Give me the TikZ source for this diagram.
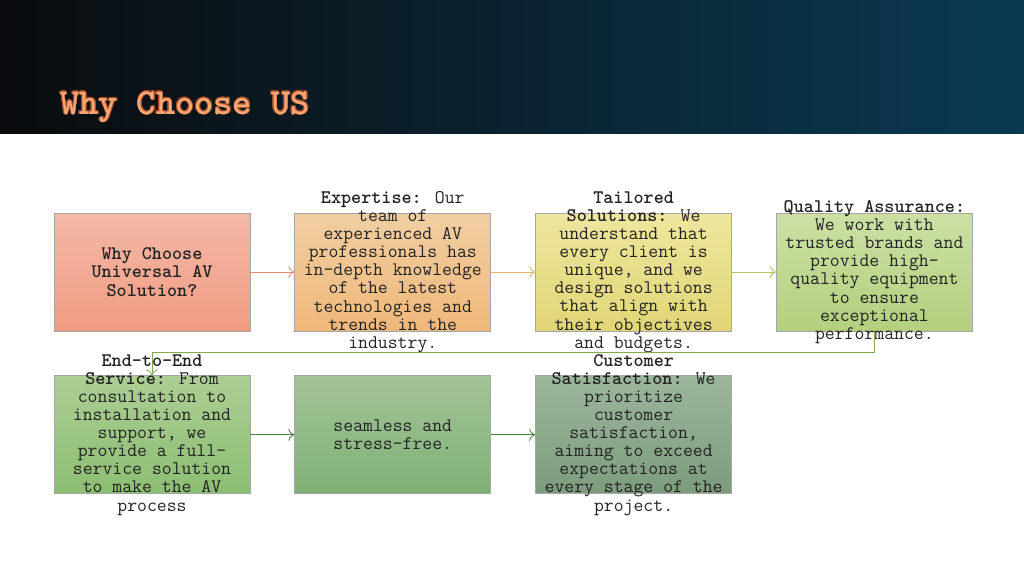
\documentclass[tikz,border=0pt]{standalone}
\usepackage{fontspec}
\usepackage{contour}
\usetikzlibrary{positioning,arrows.meta}
\definecolor{hdrdark}{RGB}{10,12,14}
\definecolor{hdrmid}{RGB}{9,36,50}
\definecolor{hdrteal}{RGB}{10,58,82}
\definecolor{titleorange}{RGB}{248,166,116}
\definecolor{titleedge}{RGB}{160,76,38}
\definecolor{bodytext}{RGB}{35,35,35}
\definecolor{whytop}{RGB}{244,184,166}
\definecolor{whybot}{RGB}{241,156,130}
\definecolor{exptop}{RGB}{240,206,162}
\definecolor{expbot}{RGB}{240,184,122}
\definecolor{tailtop}{RGB}{238,230,158}
\definecolor{tailbot}{RGB}{224,214,118}
\definecolor{qualtop}{RGB}{204,224,164}
\definecolor{qualbot}{RGB}{178,208,126}
\definecolor{endtop}{RGB}{172,206,148}
\definecolor{endbot}{RGB}{140,190,114}
\definecolor{seamtop}{RGB}{162,196,152}
\definecolor{seambot}{RGB}{128,176,118}
\definecolor{custtop}{RGB}{156,182,156}
\definecolor{custbot}{RGB}{124,156,124}
\definecolor{arrowsalmon}{RGB}{232,140,110}
\definecolor{arrowtan}{RGB}{232,178,100}
\definecolor{arrowolive}{RGB}{186,196,100}
\definecolor{arrowgreen}{RGB}{130,170,80}
\definecolor{arrowdark}{RGB}{70,130,55}
\contourlength{0.5pt}

\begin{document}
\begin{tikzpicture}[x=0.75pt,y=-0.75pt,node distance=33pt,
    box/.style={draw=gray!70,line width=0.6pt,minimum width=147pt,minimum height=88.5pt,inner sep=0pt},
    txt/.style={align=center,text=bodytext,inner sep=0pt,font=\ttfamily\fontsize{14.4}{13.6}\selectfont},
    link/.style={line width=0.6pt,-{To[length=4.5pt,width=9pt]}}]
    \useasboundingbox (0,0) rectangle (1024,576);
    %header band
    \shade[left color=hdrdark,middle color=hdrmid,right color=hdrteal] (0,0) rectangle (1024,133);
    \node[anchor=base west,inner sep=0pt,text=titleorange,font=\ttfamily\fontsize{27.4}{27.4}\bfseries\selectfont] (title) at (60,114) {\contour{titleedge}{Why Choose US}};
    %first row
    \node[box,top color=whytop,bottom color=whybot] (why) at (152,272) {};
    \node[box,top color=exptop,bottom color=expbot,right=of why] (exp) {};
    \node[box,top color=tailtop,bottom color=tailbot,right=of exp] (tail) {};
    \node[box,top color=qualtop,bottom color=qualbot,right=of tail] (qual) {};
    %second row
    \node[box,top color=endtop,bottom color=endbot,below=of why] (end) {};
    \node[box,top color=seamtop,bottom color=seambot,right=of end] (seam) {};
    \node[box,top color=custtop,bottom color=custbot,right=of seam] (cust) {};
    %texts
    \node[txt] (whytxt) at (why) {\textbf{Why Choose}\\\textbf{Universal AV}\\\textbf{Solution?}};
    \node[txt] (exptxt) at (exp) {\textbf{Expertise:} Our\\team of\\experienced AV\\professionals has\\in-depth knowledge\\of the latest\\technologies and\\trends in the\\industry.};
    \node[txt] (tailtxt) at (tail) {\textbf{Tailored}\\\textbf{Solutions:} We\\understand that\\every client is\\unique, and we\\design solutions\\that align with\\their objectives\\and budgets.};
    \node[txt] (qualtxt) at (qual) {\textbf{Quality Assurance:}\\We work with\\trusted brands and\\provide high-\\quality equipment\\to ensure\\exceptional\\performance.};
    \node[txt] (endtxt) at (end) {\textbf{End-to-End}\\\textbf{Service:} From\\consultation to\\installation and\\support, we\\provide a full-\\service solution\\to make the AV\\process};
    \node[txt] (seamtxt) at (seam) {seamless and\\stress-free.};
    \node[txt] (custtxt) at (cust) {\textbf{Customer}\\\textbf{Satisfaction:} We\\prioritize\\customer\\satisfaction,\\aiming to exceed\\expectations at\\every stage of the\\project.};
    %connectors
    \draw[link,arrowsalmon] (why) -- (exp);
    \draw[link,arrowtan] (exp) -- (tail);
    \draw[link,arrowolive] (tail) -- (qual);
    \draw[link,arrowgreen] (qual.south) -- ++(0,21) -| (end.north);
    \draw[link,arrowdark] (end) -- (seam);
    \draw[link,arrowdark] (seam) -- (cust);
\end{tikzpicture}
\end{document}
